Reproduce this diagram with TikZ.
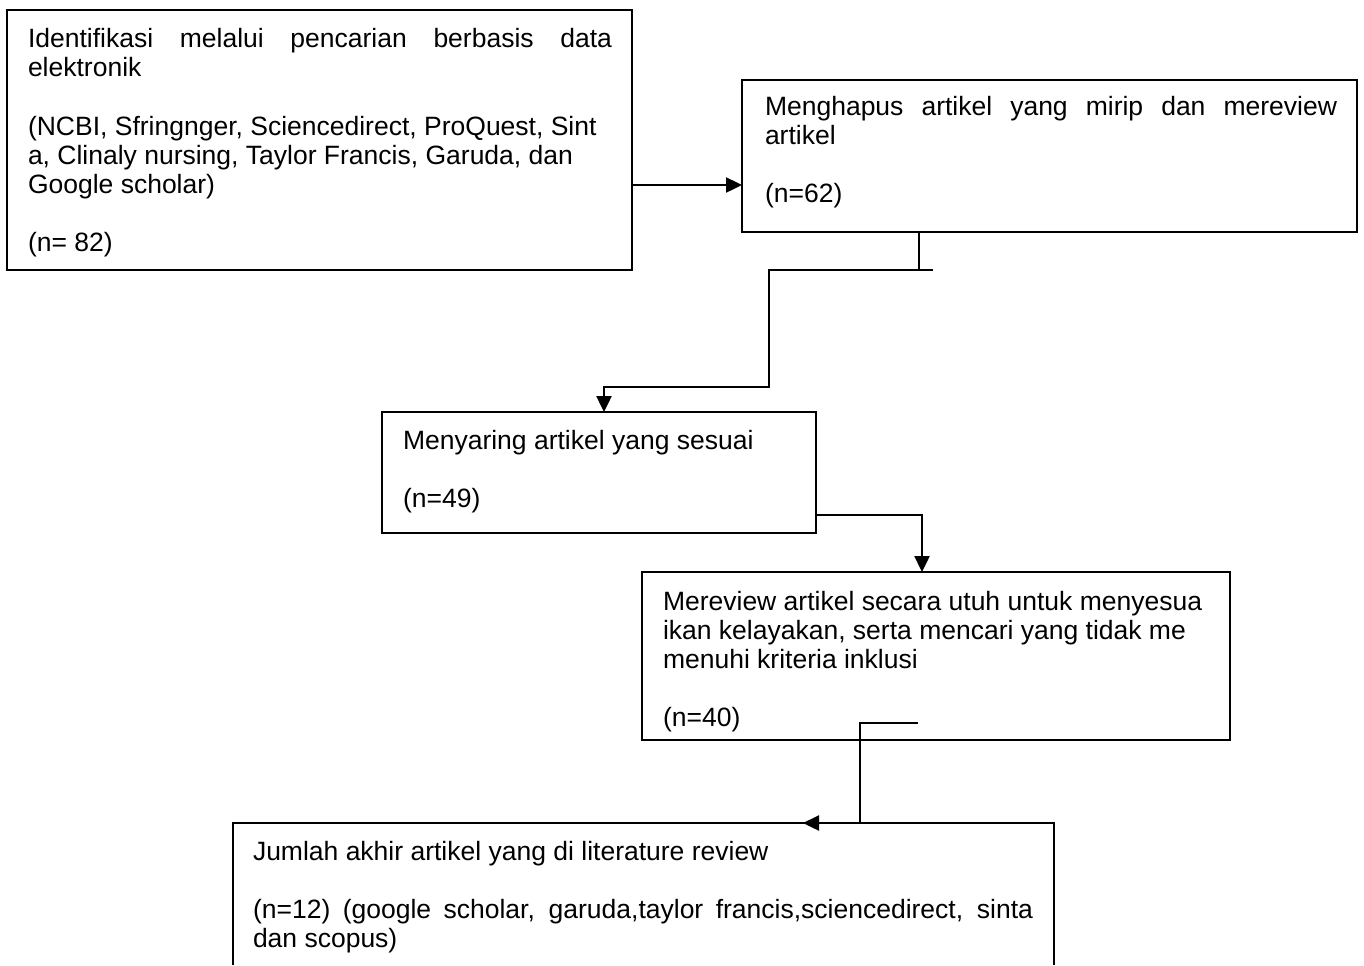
\documentclass[tikz,border=0pt]{standalone}
\usepackage{fontspec}
\setmainfont{Liberation Sans}
\usetikzlibrary{arrows.meta,calc}
\tikzset{
  box/.style={draw=black, line width=0.9pt, inner sep=0pt, outer sep=0pt, anchor=north west},
  openbox/.style={inner sep=0pt, outer sep=0pt, anchor=north west},
  txt/.style={inner sep=0pt, outer sep=0pt, anchor=base west, font=\fontsize{13.25pt}{14.6pt}\selectfont},
  line/.style={draw=black, line width=1.2pt},
  conn/.style={draw=black, line width=1.2pt, -{Triangle[length=8pt,width=7.5pt]}}
}
\begin{document}
\begin{tikzpicture}[x=0.5pt,y=-0.5pt]
\useasboundingbox (0,0) rectangle (1364,965);
% boxes
\node[box, minimum width=312.5pt, minimum height=130pt] (b1) at (7,10) {};
\node[box, minimum width=307.5pt, minimum height=76pt] (b2) at (742,80) {};
\node[box, minimum width=217pt, minimum height=60.5pt] (b3) at (382,412) {};
\node[box, minimum width=294pt, minimum height=84pt] (b4) at (642,572) {};
\node[openbox, minimum width=410.5pt, minimum height=71pt] (b5) at (233,823) {};
\draw[line width=0.9pt] (b5.south west) -- (b5.north west) -- (b5.north east) -- (b5.south east);
% texts
\node[txt] (t1) at (28,47.5) {\parbox[t]{300pt}{%
\makebox[292pt][s]{Identifikasi melalui pencarian berbasis data}\\
elektronik\\
\mbox{}\\
(NCBI, Sfringnger, Sciencedirect, ProQuest, Sint\\
a, Clinaly nursing, Taylor Francis, Garuda, dan\\
Google scholar)\\
\mbox{}\\
(n= 82)}};
\node[txt] (t2) at (765,115) {\parbox[t]{295pt}{%
\makebox[286pt][s]{Menghapus artikel yang mirip dan mereview}\\
artikel\\
\mbox{}\\
(n=62)}};
\node[txt] (t3) at (403,449) {\parbox[t]{200pt}{%
Menyaring artikel yang sesuai\\
\mbox{}\\
(n=49)}};
\node[txt] (t4) at (663,610) {\parbox[t]{285pt}{%
Mereview artikel secara utuh untuk menyesua\\
ikan kelayakan, serta mencari yang tidak me\\
menuhi kriteria inklusi\\
\mbox{}\\
(n=40)}};
\node[txt] (t5) at (253,860) {\parbox[t]{400pt}{%
Jumlah akhir artikel yang di literature review\\
\mbox{}\\
\makebox[390pt][s]{(n=12) (google scholar, garuda,taylor francis,sciencedirect, sinta}\\
dan scopus)}};
% connectors
\draw[conn] ($(b1.north east)+(0,175)$) -- ($(b2.north west)+(0,105)$);
\coordinate (k1) at ($(b2.south west)+(177,0)$);
\coordinate (k2) at ($(b2.south west)+(191,38)$);
\draw[line] (k1) -- ++(0,38);
\draw[conn] (k2) -- ++(-164,0) |- ($(b3.north west)+(222,-25)$) -- ($(b3.north west)+(222,0)$);
\draw[conn] ($(b3.north east)+(0,46)$) |- ($(b4.north west)+(280,-57)$) -- ($(b4.north west)+(280,0)$);
\coordinate (k3) at ($(b4.south west)+(276,-17)$);
\draw[conn] (k3) -- ++(-58,0) |- ($(b5.north west)+(570,0)$);
\end{tikzpicture}
\end{document}
